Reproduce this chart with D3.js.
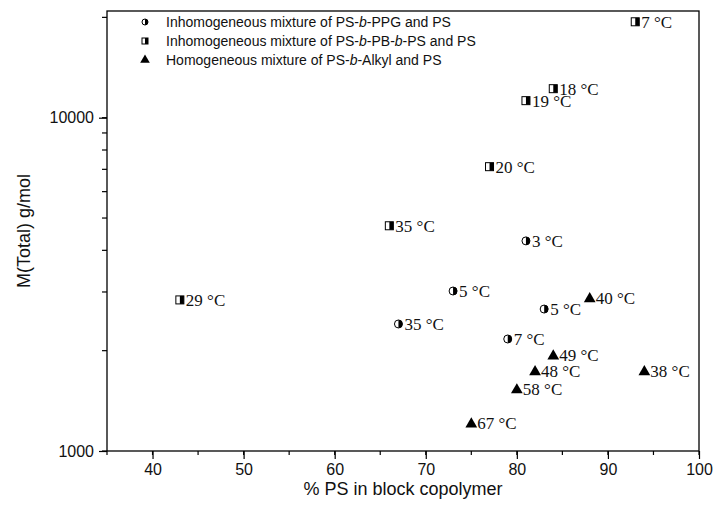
<!DOCTYPE html>
<html><head><meta charset="utf-8">
<script src="https://cdn.jsdelivr.net/npm/d3@7"></script>
<style>body{margin:0;background:#fff}svg{display:block}</style>
</head><body>
<script>
// Series: [x (% PS), M(Total), label]
const ppgX = [81, 73, 67, 83, 79];
const ppgY = [4270, 3020, 2405, 2666, 2168];
const ppgL = ["3 °C", "5 °C", "35 °C", "5 °C", "7 °C"];

const pbX = [93, 84, 81, 77, 66, 43];
const pbY = [19400, 12220, 11250, 7130, 4740, 2840];
const pbL = ["7 °C", "18 °C", "19 °C", "20 °C", "35 °C", "29 °C"];

const alkX = [88, 84, 82, 94, 80, 75];
const alkY = [2880, 1940, 1740, 1740, 1535, 1213];
const alkL = ["40 °C", "49 °C", "48 °C", "38 °C", "58 °C", "67 °C"];

const legendLabels = [
  ["Inhomogeneous mixture of PS-", "b", "-PPG and PS"],
  ["Inhomogeneous mixture of PS-", "b", "-PB-", "b", "-PS and PS"],
  ["Homogeneous mixture of PS-", "b", "-Alkyl and PS"]
];
const xTicks = [40, 50, 60, 70, 80, 90, 100];
const yTicks = [1000, 10000];

const W = 717, H = 517;
const m = {l: 107, r: 18, t: 11, b: 66};
const svg = d3.select("body").append("svg").attr("width", W).attr("height", H);
const x = d3.scaleLinear().domain([35, 100]).range([m.l, W - m.r]);
const y = d3.scaleLog().domain([1000, 20900]).range([H - m.b, m.t]);

// frame
svg.append("rect").attr("x", m.l).attr("y", m.t).attr("width", W - m.r - m.l).attr("height", H - m.b - m.t)
  .attr("fill", "none").attr("stroke", "#000").attr("stroke-width", 1.3);

// x axis
const xMinor = d3.range(35, 101, 5);
const gx = svg.append("g").attr("transform", `translate(0,${H - m.b})`);
gx.selectAll("line.minor").data(xMinor).join("line").attr("x1", d => x(d)).attr("x2", d => x(d))
  .attr("y1", 0).attr("y2", 4).attr("stroke", "#000").attr("stroke-width", 1.2);
gx.call(d3.axisBottom(x).tickValues(xTicks).tickSize(8).tickPadding(5).tickFormat(d3.format("d")))
  .call(g => g.select(".domain").remove())
  .call(g => g.selectAll("line").attr("stroke-width", 1.2))
  .call(g => g.selectAll("text").attr("font-family", "Liberation Sans, Arial, sans-serif").attr("font-size", 16).attr("fill", "#111"));

// y axis
const yMinor = [];
for (let d = 1000; d <= 20000; d += (d < 10000 ? 1000 : 10000)) yMinor.push(d);
const gy = svg.append("g").attr("transform", `translate(${m.l},0)`);
gy.selectAll("line.minor").data(yMinor).join("line").attr("x1", -5).attr("x2", 0)
  .attr("y1", d => y(d)).attr("y2", d => y(d)).attr("stroke", "#000").attr("stroke-width", 1.2);
gy.call(d3.axisLeft(y).tickValues(yTicks).tickSize(8).tickPadding(5).tickFormat(d3.format("d")))
  .call(g => g.select(".domain").remove())
  .call(g => g.selectAll("line").attr("stroke-width", 1.2))
  .call(g => g.selectAll("text").attr("font-family", "Liberation Sans, Arial, sans-serif").attr("font-size", 16).attr("fill", "#111"));

// axis titles
svg.append("text").attr("x", (m.l + W - m.r) / 2).attr("y", 495).attr("text-anchor", "middle")
  .attr("font-family", "Liberation Sans, Arial, sans-serif").attr("font-size", 18).attr("fill", "#111")
  .text("% PS in block copolymer");
svg.append("text").attr("transform", `translate(30,${(m.t + H - m.b) / 2}) rotate(-90)`).attr("text-anchor", "middle")
  .attr("font-family", "Liberation Sans, Arial, sans-serif").attr("font-size", 18).attr("fill", "#111")
  .text("M(Total) g/mol");

// marker drawers
function halfCircle(g, cx, cy, r) {
  g.append("circle").attr("cx", cx).attr("cy", cy).attr("r", r).attr("fill", "#fff").attr("stroke", "#000").attr("stroke-width", 1);
  g.append("path").attr("d", `M${cx},${cy - r} A${r},${r} 0 0 1 ${cx},${cy + r} Z`).attr("fill", "#000");
}
function halfSquare(g, cx, cy, s) {
  g.append("rect").attr("x", cx - s / 2).attr("y", cy - s / 2).attr("width", s).attr("height", s)
    .attr("fill", "#fff").attr("stroke", "#000").attr("stroke-width", 1);
  g.append("rect").attr("x", cx).attr("y", cy - s / 2).attr("width", s / 2).attr("height", s).attr("fill", "#000");
}
function tri(g, cx, cy, s) {
  const sym = d3.symbol().type(d3.symbolTriangle).size(s);
  g.append("path").attr("transform", `translate(${cx},${cy + 1})`).attr("d", sym()).attr("fill", "#000");
}
function label(g, cx, cy, t) {
  g.append("text").attr("x", cx + 6).attr("y", cy + 6).attr("font-family", "Liberation Serif, Times New Roman, serif")
    .attr("font-size", 17).attr("fill", "#111").text(t);
}

const pts = svg.append("g");
ppgX.forEach((d, i) => { const cx = x(d), cy = y(ppgY[i]); halfCircle(pts, cx, cy, 4); label(pts, cx, cy, ppgL[i]); });
pbX.forEach((d, i) => { const cx = x(d), cy = y(pbY[i]); halfSquare(pts, cx, cy, 8); label(pts, cx, cy, pbL[i]); });
alkX.forEach((d, i) => { const cx = x(d), cy = y(alkY[i]); tri(pts, cx, cy, 60); label(pts, cx, cy, alkL[i]); });

// legend
const lg = svg.append("g");
const rows = [22, 41, 60];
halfCircle(lg, 145, rows[0], 3);
halfSquare(lg, 145, rows[1], 6);
tri(lg, 145, rows[2] - 1, 40);
legendLabels.forEach((parts, i) => {
  const t = lg.append("text").attr("x", 166).attr("y", rows[i] + 5)
    .attr("font-family", "Liberation Sans, Arial, sans-serif").attr("font-size", 14).attr("fill", "#111");
  parts.forEach(p => { const s = t.append("tspan").text(p); if (p === "b") s.attr("font-style", "italic"); });
});
</script>
</body></html>
